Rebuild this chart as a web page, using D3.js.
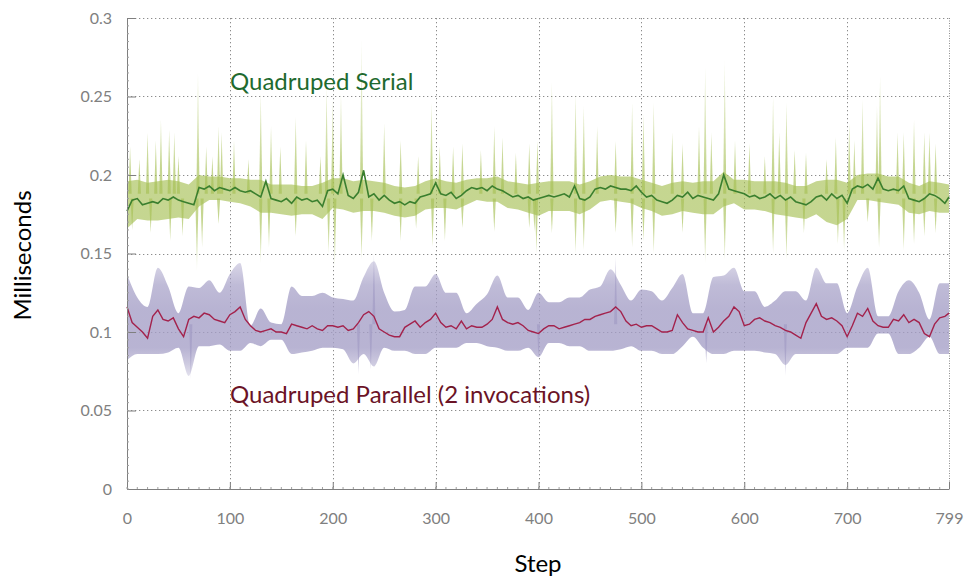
<!DOCTYPE html>
<html>
<head>
<meta charset="utf-8">
<script src="https://cdn.jsdelivr.net/npm/d3@7"></script>
<style>
  body { margin: 0; background: #fff; }
  svg text { font-family: Lato, "Open Sans", sans-serif; }
</style>
</head>
<body>
<svg id="canvas"></svg>
<script>
let width = 964;
let height = 578;
let margin = { left: 127, right: 15, top: 18, bottom: 89 };

// serial mean, one value every 5 steps (0..795, then 799)
const serialMean = [
  .177, .184, .185, .181, .182, .183, .182, .185, .184, .186, .184, .183, .182, .181, .192, .191,
  .193, .190, .192, .191, .190, .192, .190, .189, .190, .188, .186, .196, .185, .184, .183, .185,
  .182, .186, .184, .185, .183, .184, .180, .190, .191, .188, .200, .187, .185, .189, .203, .186,
  .188, .184, .187, .184, .182, .183, .181, .183, .182, .186, .187, .188, .195, .188, .187, .189,
  .185, .187, .190, .192, .191, .192, .190, .193, .191, .190, .188, .186, .187, .185, .186, .184,
  .185, .186, .187, .186, .187, .188, .186, .193, .185, .184, .186, .191, .192, .191, .193, .192,
  .191, .191, .190, .193, .189, .186, .187, .184, .183, .182, .184, .187, .186, .189, .185, .187,
  .186, .185, .184, .188, .200, .191, .190, .189, .188, .186, .187, .185, .186, .188, .185, .187,
  .184, .186, .183, .182, .181, .183, .186, .187, .184, .188, .185, .187, .182, .191, .193, .192,
  .194, .191, .198, .191, .190, .191, .190, .193, .185, .184, .183, .185, .188, .187, .185, .182,
  .186
];

// serial dense band, every 10 steps (0..790, then 799)
const serialHi = [
  .196, .197, .195, .196, .197, .196, .194, .200, .199, .199, .198, .198, .197, .197, .194, .194,
  .194, .193, .193, .195, .198, .198, .196, .197, .196, .195, .193, .192, .193, .196, .198, .196,
  .195, .197, .198, .198, .199, .196, .195, .194, .195, .196, .196, .196, .194, .196, .199, .200,
  .199, .199, .197, .195, .193, .195, .196, .195, .196, .196, .202, .197, .197, .196, .196, .196,
  .195, .193, .193, .196, .197, .197, .195, .200, .201, .201, .199, .199, .195, .193, .196, .195,
  .194
];
const serialLo = [
  .166, .172, .171, .171, .172, .173, .172, .180, .184, .184, .183, .182, .180, .176, .176, .175,
  .174, .175, .175, .172, .179, .178, .176, .177, .177, .176, .174, .173, .174, .178, .179, .179,
  .178, .181, .184, .183, .183, .179, .178, .176, .174, .177, .177, .177, .175, .178, .183, .184,
  .183, .182, .179, .177, .174, .175, .177, .176, .175, .175, .180, .182, .178, .178, .177, .175,
  .174, .173, .172, .175, .170, .168, .172, .184, .184, .183, .182, .181, .176, .175, .177, .176,
  .176
];

// serial single-step spikes [step, value]
const serialSpikesUp = [
  [3, .218], [12, .210], [20, .227], [28, .222], [33, .235], [41, .229], [46, .227], [50, .212],
  [69, .265], [77, .218], [83, .212], [89, .231], [92, .227], [104, .222], [118, .210], [130, .252],
  [140, .231], [149, .218], [164, .237], [174, .222], [188, .212], [194, .256], [200, .248], [208, .252],
  [228, .287], [250, .233], [266, .222], [283, .212], [296, .246], [304, .218], [317, .218], [326, .220],
  [344, .216], [357, .231], [365, .224], [378, .214], [391, .220], [399, .222], [413, .259], [436, .252],
  [444, .244], [457, .231], [475, .222], [491, .246], [502, .239], [512, .246], [530, .227], [540, .220],
  [556, .231], [562, .269], [568, .227], [581, .273], [591, .222], [605, .220], [620, .212], [628, .250],
  [634, .227], [641, .246], [649, .216], [660, .214], [680, .210], [689, .224], [702, .233], [707, .222],
  [715, .248], [729, .244], [732, .263], [749, .227], [755, .227], [765, .235], [775, .227], [780, .227],
  [786, .220]
];
const serialSpikesDown = [
  [5, .165], [23, .163], [42, .158], [54, .161], [68, .139], [73, .154], [89, .169], [130, .144],
  [138, .154], [164, .161], [196, .150], [202, .141], [228, .146], [238, .158], [266, .158], [281, .166],
  [297, .154], [309, .158], [326, .166], [357, .164], [391, .166], [396, .164], [398, .150], [413, .163],
  [436, .150], [444, .152], [475, .163], [491, .154], [502, .158], [512, .150], [540, .163], [562, .144],
  [581, .146], [628, .150], [641, .146], [658, .163], [691, .156], [697, .152], [720, .170], [731, .154],
  [755, .152], [765, .156], [775, .161], [786, .163]
];

// parallel mean, every 5 steps (0..795, then 799)
const parallelMean = [
  .116, .106, .103, .100, .096, .110, .114, .108, .107, .109, .102, .097, .108, .110, .109, .112,
  .111, .108, .107, .106, .111, .113, .116, .108, .104, .101, .100, .101, .102, .100, .100, .099,
  .105, .104, .103, .102, .104, .102, .101, .104, .104, .103, .104, .101, .102, .106, .111, .113,
  .110, .102, .100, .098, .097, .097, .103, .105, .107, .103, .106, .108, .112, .106, .103, .104,
  .102, .107, .102, .104, .103, .103, .105, .108, .116, .108, .106, .105, .106, .104, .101, .100,
  .099, .102, .104, .104, .102, .103, .104, .105, .106, .108, .108, .110, .111, .112, .113, .116,
  .113, .107, .104, .105, .103, .104, .104, .102, .100, .100, .101, .111, .106, .102, .101, .100,
  .100, .109, .100, .103, .107, .110, .116, .113, .104, .105, .108, .109, .107, .106, .104, .103,
  .101, .100, .098, .096, .106, .112, .118, .110, .108, .109, .107, .104, .097, .104, .112, .110,
  .115, .107, .104, .103, .103, .108, .107, .111, .106, .108, .106, .099, .097, .105, .109, .110,
  .112
];

// parallel band, every 10 steps (0..790, then 799)
const parallelHi = [
  .137, .122, .116, .141, .129, .112, .129, .128, .133, .125, .137, .144, .104, .115, .106, .105,
  .129, .123, .123, .125, .122, .121, .120, .135, .145, .125, .113, .114, .129, .129, .137, .125,
  .125, .112, .118, .124, .136, .122, .122, .114, .125, .119, .119, .122, .122, .127, .129, .140,
  .130, .120, .127, .126, .120, .128, .137, .112, .112, .135, .136, .141, .126, .126, .116, .120,
  .126, .126, .120, .141, .131, .131, .112, .129, .141, .110, .110, .126, .133, .125, .108, .131,
  .131
];
const parallelLo = [
  .082, .086, .086, .086, .087, .090, .072, .091, .091, .092, .088, .088, .093, .091, .095, .095,
  .086, .087, .088, .090, .090, .089, .080, .086, .078, .090, .088, .088, .086, .086, .090, .090,
  .090, .093, .093, .091, .090, .088, .088, .090, .084, .093, .093, .091, .091, .088, .088, .088,
  .089, .091, .088, .088, .086, .086, .091, .097, .090, .086, .086, .088, .088, .088, .087, .086,
  .079, .086, .086, .086, .086, .086, .090, .090, .090, .099, .099, .086, .086, .090, .097, .086,
  .086
];
const parallelSpikes = [
  [62, .070], [225, .073], [237, .076], [400, .083], [563, .080], [640, .072], [475, .148], [240, .150]
];

const xTicks = [0, 100, 200, 300, 400, 500, 600, 700, 799];
const yTicks = [0, 0.05, 0.1, 0.15, 0.2, 0.25, 0.3];
const yTickLabels = ['0', '0.05', '0.1', '0.15', '0.2', '0.25', '0.3'];

let fiveSteps = (arr) => arr.map((v, i) => [i === arr.length - 1 ? 799 : i * 5, v]);
let tenSteps = (hi, lo) => hi.map((v, i) => [i === hi.length - 1 ? 799 : i * 10, v, lo[i]]);

let canvas = d3.select('#canvas').attr('width', width).attr('height', height);

let xScale = d3.scaleLinear().domain([0, 799]).range([margin.left, width - margin.right]);
let yScale = d3.scaleLinear().domain([0, 0.3]).range([height - margin.bottom, margin.top]);

let defs = canvas.append('defs');

let makeGradient = (id, color, stops) => {
  let y0 = yScale(stops[0][0]);
  let y1 = yScale(stops[stops.length - 1][0]);
  let g = defs.append('linearGradient')
    .attr('id', id)
    .attr('gradientUnits', 'userSpaceOnUse')
    .attr('x1', 0).attr('x2', 0)
    .attr('y1', y0).attr('y2', y1);
  stops.forEach((s) => {
    g.append('stop')
      .attr('offset', (yScale(s[0]) - y0) / (y1 - y0))
      .attr('stop-color', color)
      .attr('stop-opacity', s[1]);
  });
};

makeGradient('greenFade', '#a6c055', [[0.29, 0.12], [0.23, 0.45], [0.205, 0.65], [0.17, 0.65], [0.155, 0.45], [0.135, 0.08]]);
makeGradient('purpleFade', '#a49ec6', [[0.15, 0.3], [0.13, 0.7], [0.115, 0.78], [0.09, 0.78], [0.08, 0.55], [0.068, 0.2]]);

// grid
let grid = canvas.append('g').attr('stroke', '#8c8c8c').attr('stroke-dasharray', '1.3,2.7').attr('stroke-width', 1);
grid.selectAll('.hgrid')
  .data(yTicks.slice(1))
  .enter()
  .append('line')
  .attr('x1', xScale(0))
  .attr('x2', xScale(799))
  .attr('y1', (d) => Math.round(yScale(d)) + 0.5)
  .attr('y2', (d) => Math.round(yScale(d)) + 0.5);
grid.selectAll('.vgrid')
  .data(xTicks.slice(1, -1))
  .enter()
  .append('line')
  .attr('x1', (d) => Math.round(xScale(d)) + 0.5)
  .attr('x2', (d) => Math.round(xScale(d)) + 0.5)
  .attr('y1', yScale(0.3))
  .attr('y2', yScale(0));
grid.append('line')
  .attr('x1', Math.round(xScale(799)) + 0.5)
  .attr('x2', Math.round(xScale(799)) + 0.5)
  .attr('y1', yScale(0.3))
  .attr('y2', yScale(0))
  .attr('stroke-dasharray', '1,1.5');

// parallel band
let pBand = tenSteps(parallelHi, parallelLo);
canvas.append('path')
  .datum(pBand)
  .attr('fill', 'url(#purpleFade)')
  .attr('d', d3.area().curve(d3.curveMonotoneX).x((d) => xScale(d[0])).y0((d) => yScale(d[2])).y1((d) => yScale(d[1])));

let spikePath = (base) => (d) => {
  let x = xScale(d[0]);
  return `M${x - 1.6},${yScale(base)}L${x},${yScale(d[1])}L${x + 1.6},${yScale(base)}Z`;
};

canvas.append('g')
  .selectAll('path')
  .data(parallelSpikes)
  .enter()
  .append('path')
  .attr('d', spikePath(0.105))
  .attr('fill', 'url(#purpleFade)');

// serial band and spikes
let sBand = tenSteps(serialHi, serialLo);
canvas.append('path')
  .datum(sBand)
  .attr('fill', 'url(#greenFade)')
  .attr('d', d3.area().x((d) => xScale(d[0])).y0((d) => yScale(d[2])).y1((d) => yScale(d[1])));
let spikes = canvas.append('g').attr('fill', 'url(#greenFade)');
spikes.selectAll('.up')
  .data(serialSpikesUp)
  .enter()
  .append('path')
  .attr('d', spikePath(0.188));
spikes.selectAll('.down')
  .data(serialSpikesDown)
  .enter()
  .append('path')
  .attr('d', spikePath(0.185));

// mean lines
let line = d3.line().x((d) => xScale(d[0])).y((d) => yScale(d[1]));
canvas.append('path')
  .datum(fiveSteps(parallelMean))
  .attr('fill', 'none')
  .attr('stroke', '#a3224c')
  .attr('stroke-width', 1.4)
  .attr('d', line);
canvas.append('path')
  .datum(fiveSteps(serialMean))
  .attr('fill', 'none')
  .attr('stroke', '#3a7f2e')
  .attr('stroke-width', 1.6)
  .attr('d', line);

// axes
let xAxis = d3.axisBottom(xScale).tickValues(xTicks).tickFormat(d3.format('d'))
  .tickSizeInner(-7).tickSizeOuter(0).tickPadding(24);
let yAxis = d3.axisLeft(yScale).tickValues(yTicks).tickFormat((d, i) => yTickLabels[i])
  .tickSizeInner(-9).tickSizeOuter(0).tickPadding(15);

let gx = canvas.append('g')
  .attr('transform', `translate(0, ${yScale(0)})`)
  .call(xAxis);
let gy = canvas.append('g')
  .attr('transform', `translate(${xScale(0)}, 0)`)
  .call(yAxis);

[gx, gy].forEach((g) => {
  g.select('.domain').attr('stroke', '#7f7f7f');
  g.selectAll('.tick line').attr('stroke', '#7f7f7f');
  g.selectAll('.tick text').attr('fill', '#808080').style('font-size', '16px');
});

// minor ticks
let minorX = d3.range(0, 800, 10);
canvas.append('g')
  .selectAll('line')
  .data(minorX)
  .enter()
  .append('line')
  .attr('x1', (d) => xScale(d))
  .attr('x2', (d) => xScale(d))
  .attr('y1', yScale(0))
  .attr('y2', yScale(0) - 2)
  .attr('stroke', '#a0a0a0');
let minorY = d3.range(0, 0.3, 0.005);
canvas.append('g')
  .selectAll('line')
  .data(minorY)
  .enter()
  .append('line')
  .attr('x1', xScale(0))
  .attr('x2', xScale(0) + 2)
  .attr('y1', (d) => yScale(d))
  .attr('y2', (d) => yScale(d))
  .attr('stroke', '#a0a0a0');

// titles
canvas.append('text')
  .attr('x', (xScale(0) + xScale(799)) / 2)
  .attr('y', 572)
  .attr('text-anchor', 'middle')
  .style('font-size', '24px')
  .attr('fill', '#000')
  .text('Step');
canvas.append('text')
  .attr('transform', `translate(31, ${yScale(0.15) + 2}) rotate(-90)`)
  .attr('text-anchor', 'middle')
  .style('font-size', '24px')
  .attr('fill', '#000')
  .text('Milliseconds');

canvas.append('text')
  .attr('x', 230)
  .attr('y', 90)
  .style('font-size', '24px')
  .attr('fill', '#1f6a2f')
  .text('Quadruped Serial');
canvas.append('text')
  .attr('x', 230)
  .attr('y', 403)
  .style('font-size', '24px')
  .attr('fill', '#6b1326')
  .text('Quadruped Parallel (2 invocations)');
</script>
</body>
</html>
